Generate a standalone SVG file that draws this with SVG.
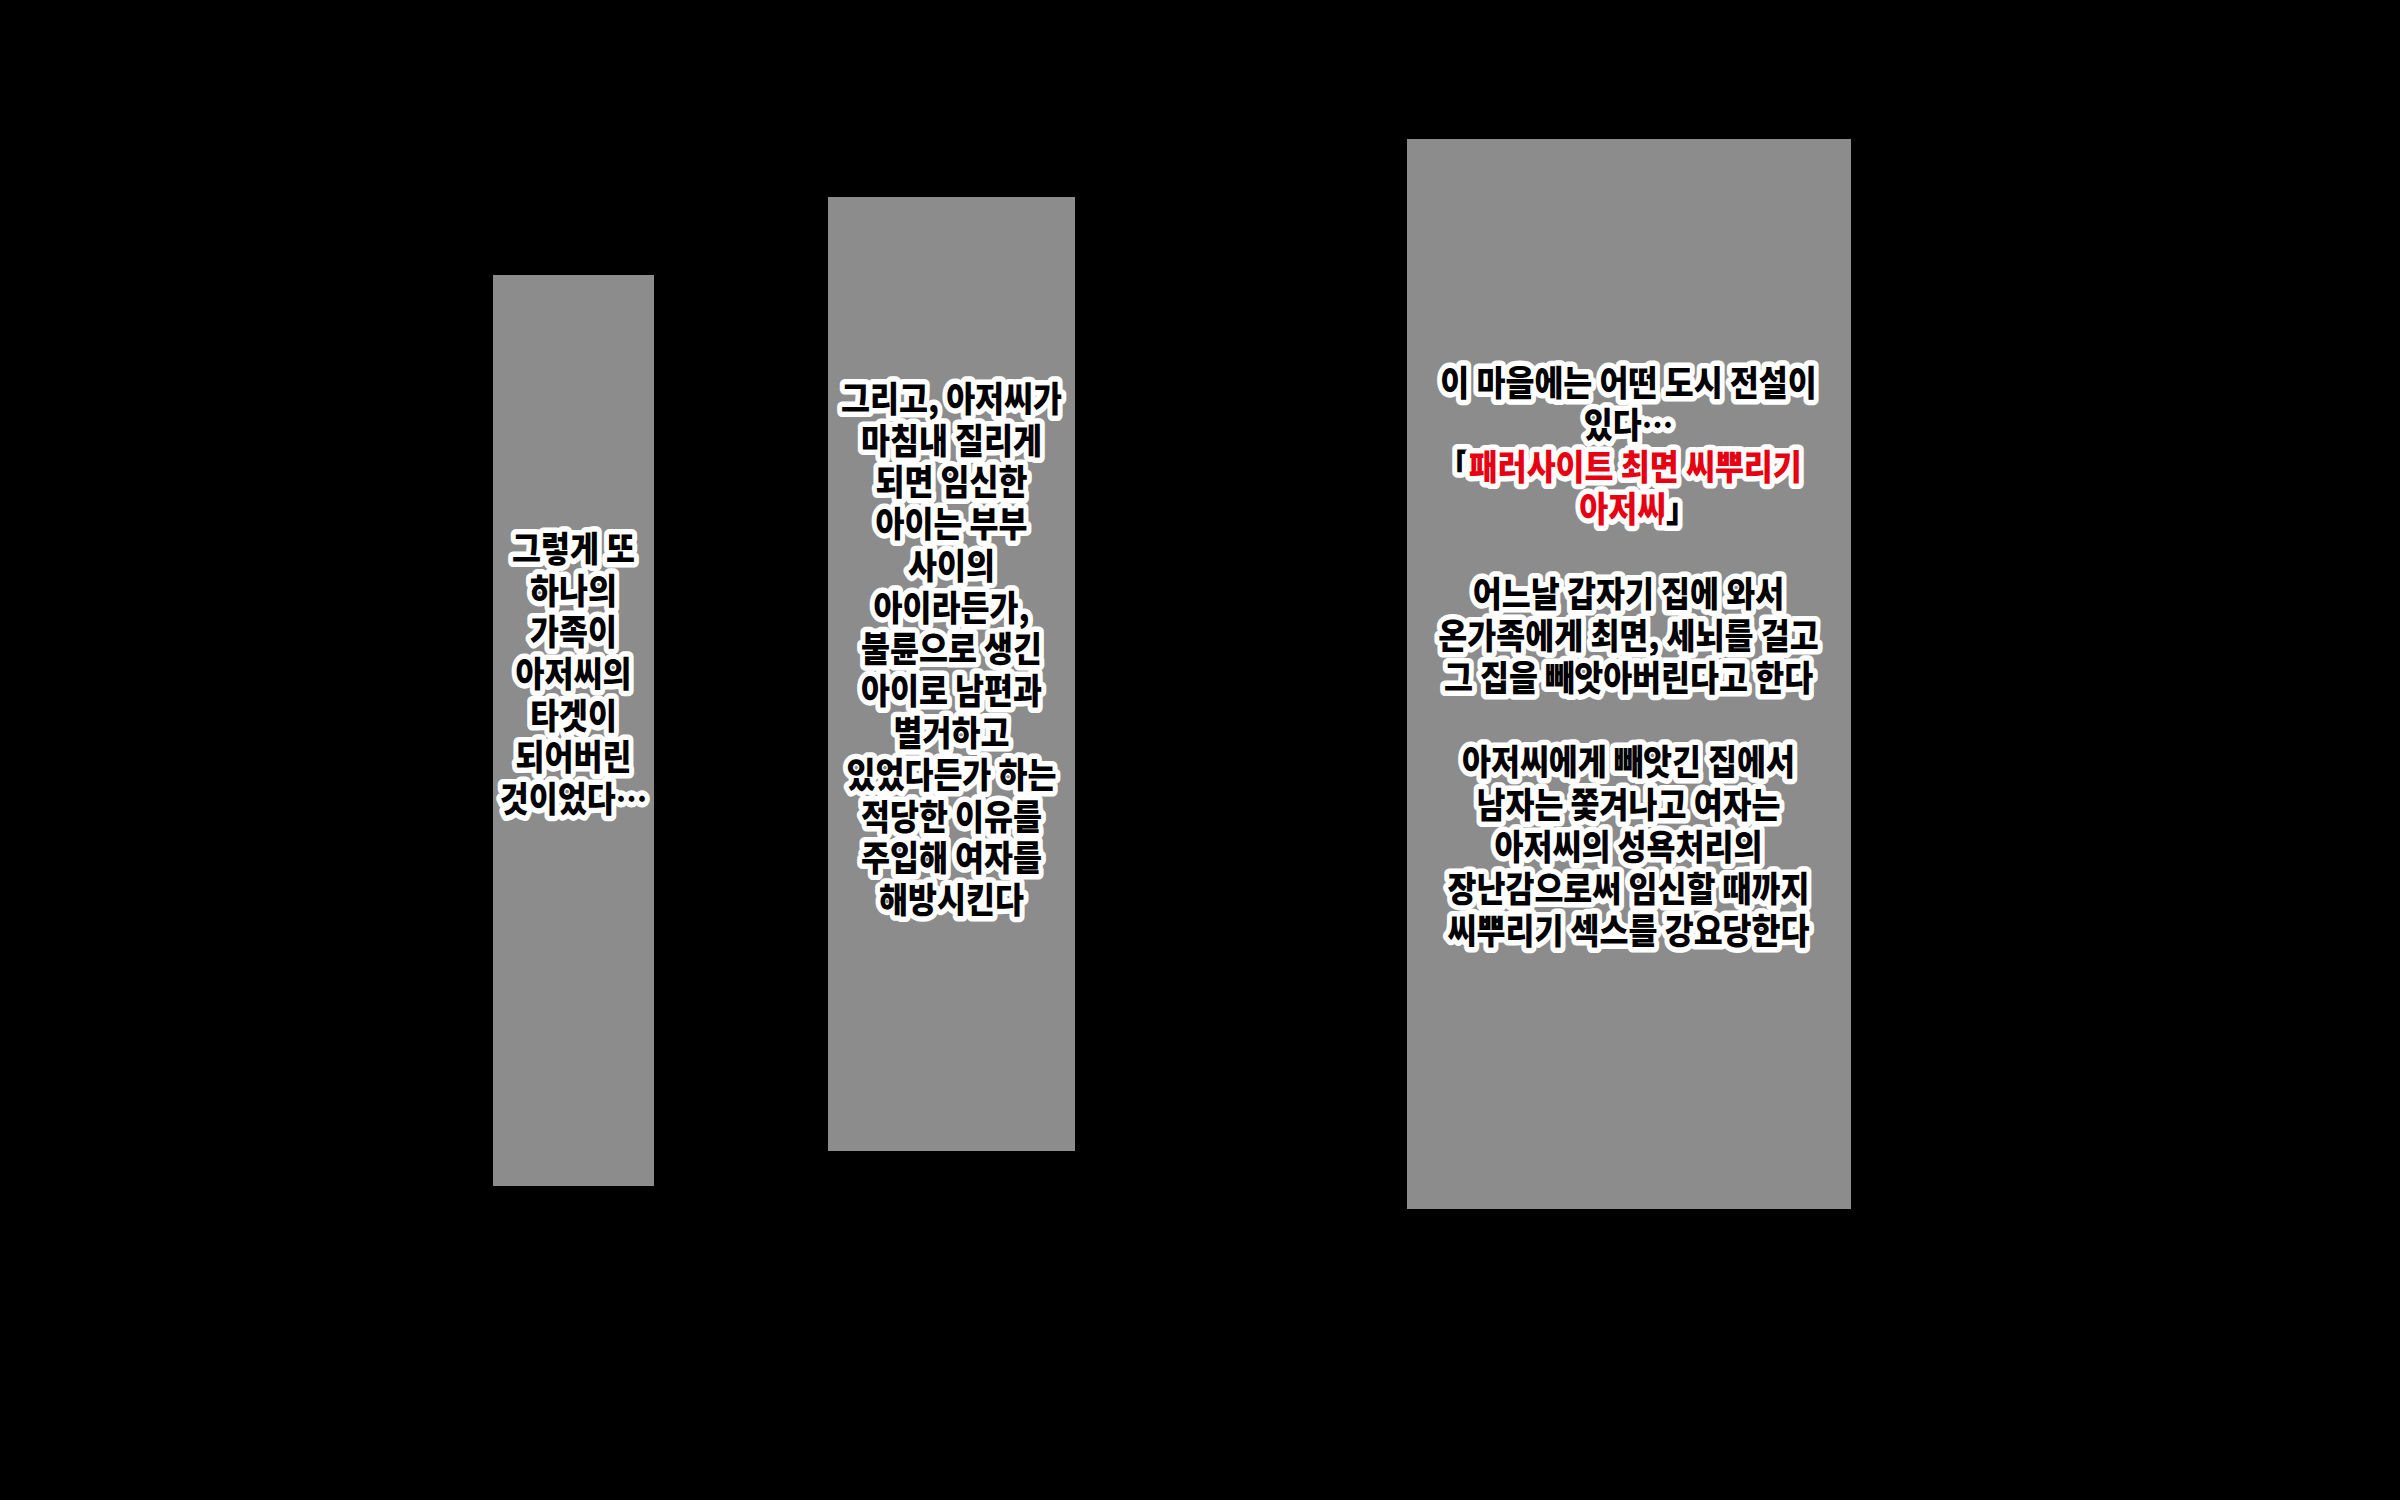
<svg xmlns="http://www.w3.org/2000/svg" width="2400" height="1500" viewBox="0 0 2400 1500">
<style>
.bg{fill:#000}
.panel{fill:#8c8c8c}
.t{font-family:"Noto Sans CJK KR","Noto Sans CJK SC",sans-serif;font-weight:900;font-size:35px;text-anchor:middle;fill:#000;stroke:#fff;stroke-width:11;stroke-linejoin:round;paint-order:stroke fill}
.red{fill:#e60012}
</style>
<rect class="bg" x="0" y="0" width="2400" height="1500"/>
<g id="connectors"></g>
<g id="panel1">
<rect class="panel" x="493" y="275" width="161" height="911"/>
<g transform="translate(573.5 0) scale(0.9 1)">
<text class="t" x="0" y="562">그렇게 또</text>
<text class="t" x="0" y="604">하나의</text>
<text class="t" x="0" y="645">가족이</text>
<text class="t" x="0" y="687">아저씨의</text>
<text class="t" x="0" y="729">타겟이</text>
<text class="t" x="0" y="770">되어버린</text>
<text class="t" x="0" y="812">것이었다…</text>
</g>
</g>
<g id="panel2">
<rect class="panel" x="828" y="197" width="247" height="954"/>
<g transform="translate(951.5 0) scale(0.9 1)">
<text class="t" x="0" y="412">그리고, 아저씨가</text>
<text class="t" x="0" y="454">마침내 질리게</text>
<text class="t" x="0" y="495">되면 임신한</text>
<text class="t" x="0" y="537">아이는 부부</text>
<text class="t" x="0" y="579">사이의</text>
<text class="t" x="0" y="621">아이라든가,</text>
<text class="t" x="0" y="662">불륜으로 생긴</text>
<text class="t" x="0" y="704">아이로 남편과</text>
<text class="t" x="0" y="746">별거하고</text>
<text class="t" x="0" y="788">있었다든가 하는</text>
<text class="t" x="0" y="830">적당한 이유를</text>
<text class="t" x="0" y="871">주입해 여자를</text>
<text class="t" x="0" y="913">해방시킨다</text>
</g>
</g>
<g id="panel3">
<rect class="panel" x="1407" y="139" width="444" height="1070"/>
<g transform="translate(1628.5 0) scale(0.9 1)">
<text class="t" x="0" y="396">이 마을에는 어떤 도시 전설이</text>
<text class="t" x="0" y="438">있다…</text>
<text class="t" x="-10" y="480">「<tspan class="red">패러사이트 최면 씨뿌리기</tspan></text>
<text class="t" x="11" y="522"><tspan class="red">아저씨</tspan>」</text>
<text class="t" x="0" y="607">어느날 갑자기 집에 와서</text>
<text class="t" x="0" y="649">온가족에게 최면, 세뇌를 걸고</text>
<text class="t" x="0" y="691">그 집을 빼앗아버린다고 한다</text>
<text class="t" x="0" y="775">아저씨에게 빼앗긴 집에서</text>
<text class="t" x="0" y="818">남자는 쫓겨나고 여자는</text>
<text class="t" x="0" y="860">아저씨의 성욕처리의</text>
<text class="t" x="0" y="902">장난감으로써 임신할 때까지</text>
<text class="t" x="0" y="944">씨뿌리기 섹스를 강요당한다</text>
</g>
</g>
</svg>
